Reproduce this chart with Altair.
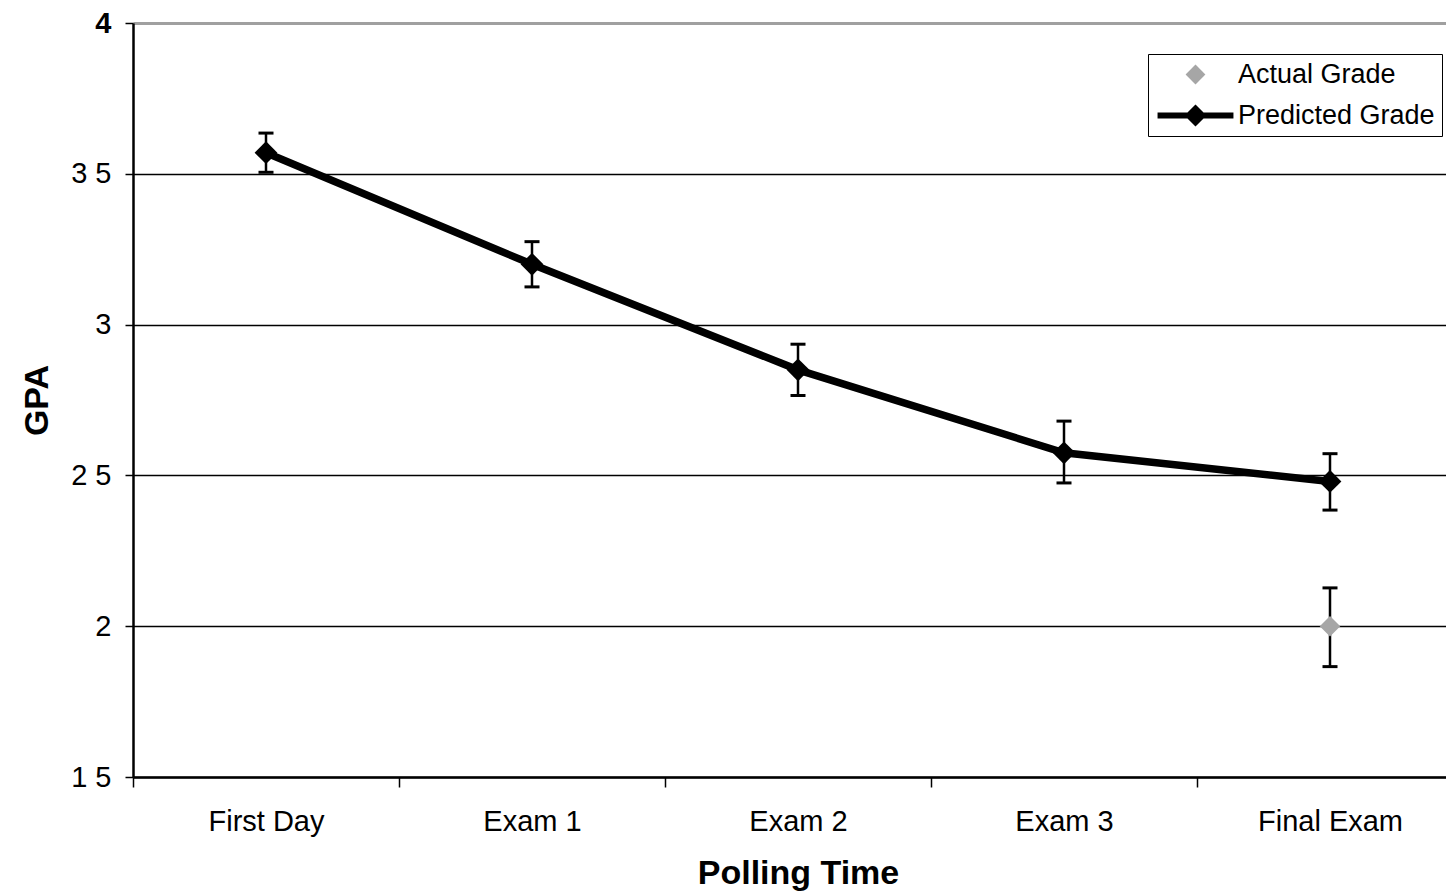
import altair as alt
import pandas as pd

# ---- data ----
categories = ["First Day", "Exam 1", "Exam 2", "Exam 3", "Final Exam"]
predicted = [3.57, 3.20, 2.85, 2.575, 2.48]
predicted_low = [3.505, 3.125, 2.765, 2.475, 2.385]
predicted_high = [3.635, 3.275, 2.935, 2.68, 2.572]

actual_categories = ["Final Exam"]
actual = [2.0]
actual_low = [1.866]
actual_high = [2.127]

series_names = ["Actual Grade", "Predicted Grade"]
y_ticks = [1.5, 2.0, 2.5, 3.0, 3.5, 4.0]

pred_df = pd.DataFrame({"cat": categories, "gpa": predicted, "lo": predicted_low,
                        "hi": predicted_high, "series": "Predicted Grade"})
act_df = pd.DataFrame({"cat": actual_categories, "gpa": actual, "lo": actual_low,
                       "hi": actual_high, "series": "Actual Grade"})
all_df = pd.concat([act_df, pred_df], ignore_index=True)

FONT = "Liberation Sans"

x_scale = alt.Scale(domain=categories, paddingInner=0, paddingOuter=0, range=[0, 1330])
x_enc = alt.X("cat:N", sort=categories, scale=x_scale,
              axis=alt.Axis(title="Polling Time", tickBand="extent", labelAngle=0,
                            labelFontSize=29, labelFont=FONT, labelColor="black",
                            labelPadding=20, tickSize=10, tickWidth=1.5, tickColor="black",
                            domainColor="black", domainWidth=2.5, labelLimit=300,
                            titleFontSize=34, titleFont=FONT, titleFontWeight="bold",
                            titleColor="black", titlePadding=20, grid=False,
                            titleX=665))

y_scale = alt.Scale(domain=[1.5, 4.0], nice=False, zero=False)
y_axis = alt.Axis(title="GPA", values=y_ticks,
                  labelExpr="replace(toString(datum.value), '.', ' ')",
                  labelFontSize=29, labelFont=FONT, labelColor="black", labelPadding=14,
                  labelFontWeight={"condition": {"test": "datum.value == 4", "value": "bold"},
                                   "value": "normal"},
                  tickSize=8, tickWidth=1.5, tickColor="black",
                  domainColor="black", domainWidth=2.5,
                  grid=True,
                  gridColor={"condition": {"test": "datum.value == 4", "value": "#a0a0a0"},
                             "value": "black"},
                  gridWidth={"condition": {"test": "datum.value == 4", "value": 3},
                             "value": 1.3},
                  titleFontSize=34, titleFont=FONT, titleFontWeight="bold",
                  titleColor="black", titlePadding=16)

base_pred = alt.Chart(pred_df)
base_all = alt.Chart(all_df)

line = base_pred.mark_line(color="black", strokeWidth=7.5).encode(
    x=x_enc, y=alt.Y("gpa:Q", scale=y_scale, axis=y_axis))

rules = base_all.mark_rule(color="black", strokeWidth=2.5).encode(
    x=alt.X("cat:N", sort=categories), y="lo:Q", y2="hi:Q")

caps_lo = base_all.mark_tick(color="black", size=15, thickness=3, opacity=1).encode(
    x=alt.X("cat:N", sort=categories), y="lo:Q")
caps_hi = base_all.mark_tick(color="black", size=15, thickness=3, opacity=1).encode(
    x=alt.X("cat:N", sort=categories), y="hi:Q")

pred_pts = base_pred.mark_point(shape="diamond", filled=True, size=520,
                                color="black", opacity=1).encode(
    x=alt.X("cat:N", sort=categories), y="gpa:Q")

act_pts = alt.Chart(act_df).mark_point(shape="diamond", filled=True, size=420,
                                       color="#a6a6a6", opacity=1).encode(
    x=alt.X("cat:N", sort=categories), y="gpa:Q")

# legend symbols: unit = 11 px (symbolSize 484 -> 22 px across [-1, 1])
actual_sym = "M0,-0.9 L0.9,0 L0,0.9 L-0.9,0 Z"
pred_sym = ("M-3.45,-0.27 L-0.73,-0.27 L0,-1 L0.73,-0.27 L3.45,-0.27 L3.45,0.27 "
            "L0.73,0.27 L0,1 L-0.73,0.27 L-3.45,0.27 Z")

legend_layer = base_all.mark_point(filled=True, opacity=0, size=10).encode(
    x=alt.X("cat:N", sort=categories), y="gpa:Q",
    color=alt.Color("series:N",
                    scale=alt.Scale(domain=series_names, range=["#a6a6a6", "black"]),
                    legend=alt.Legend(title=None, orient="none", legendX=1015, legendY=31,
                                      symbolSize=484, symbolOpacity=1,
                                      symbolStrokeWidth=0, symbolOffset=27,
                                      labelFontSize=27, labelFont=FONT, labelColor="black",
                                      labelOffset=29, rowPadding=13, labelLimit=400,
                                      padding=7, strokeColor="black", fillColor="white",
                                      cornerRadius=0)),
    shape=alt.Shape("series:N",
                    scale=alt.Scale(domain=series_names, range=[actual_sym, pred_sym]),
                    legend=None))

chart = alt.layer(line, rules, caps_lo, caps_hi, pred_pts, act_pts, legend_layer).properties(
    width=1313, height=754,
    autosize=alt.AutoSizeParams(type="none"),
    padding={"left": 125, "top": 15, "right": 0, "bottom": 114},
    background="white",
).configure_view(stroke=None)

chart.save("out.html", embed_options={"renderer": "svg", "actions": False})
